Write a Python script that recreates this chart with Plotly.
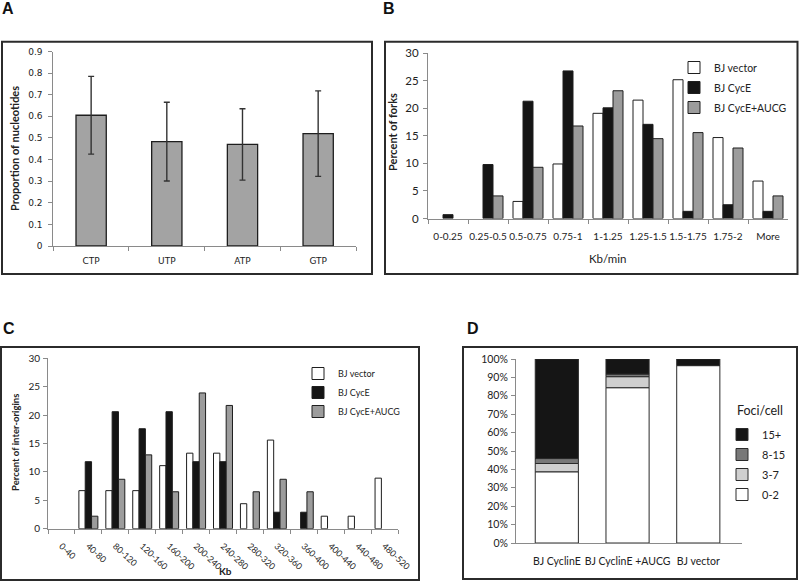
import plotly.graph_objects as go

# ---------------- data ----------------
# Panel A
nucleotides = ["CTP", "UTP", "ATP", "GTP"]
nuc_prop = [0.605, 0.483, 0.470, 0.520]
nuc_err = [0.180, 0.182, 0.165, 0.198]

# Panel B
speed_bins = ["0-0.25", "0.25-0.5", "0.5-0.75", "0.75-1", "1-1.25",
              "1.25-1.5", "1.5-1.75", "1.75-2", "More"]
forks_vector = [0, 0, 3.1, 9.9, 19.1, 21.5, 25.2, 14.7, 6.8]
forks_cyce = [0.7, 9.8, 21.3, 26.8, 20.1, 17.1, 1.3, 2.5, 1.3]
forks_aucg = [0, 4.1, 9.3, 16.8, 23.2, 14.5, 15.6, 12.8, 4.1]

# Panel C
dist_bins = ["0-40", "40-80", "80-120", "120-160", "160-200", "200-240",
             "240-280", "280-320", "320-360", "360-400", "400-440",
             "440-480", "480-520"]
io_vector = [0, 6.7, 6.7, 6.7, 11.1, 13.3, 13.3, 4.4, 15.6, 0, 2.2, 2.2, 8.9]
io_cyce = [0, 11.8, 20.6, 17.6, 20.6, 11.8, 11.8, 0, 2.9, 2.9, 0, 0, 0]
io_aucg = [0, 2.2, 8.7, 13.0, 6.5, 23.9, 21.7, 6.5, 8.7, 6.5, 0, 0, 0]

# Panel D
cells = ["BJ CyclinE", "BJ CyclinE +AUCG", "BJ vector"]
foci_labels = ["0-2", "3-7", "8-15", "15+"]
foci_0_2 = [38.7, 84.4, 96.4]
foci_3_7 = [4.5, 6.0, 0]
foci_8_15 = [2.7, 1.4, 0]
foci_15p = [54.1, 8.2, 3.6]

series_names = ["BJ vector", "BJ CycE", "BJ CycE+AUCG"]

# ---------------- style ----------------
W, H = 800, 581
SANS = "Lato, Carlito, Calibri, sans-serif"
VERD = "DejaVu Sans, Verdana, sans-serif"
AXC = "#8a8a8a"
TXT = "#222222"
fill_cols = ["#ffffff", "#151515", "#9c9c9c"]
foci_cols = ["#ffffff", "#cfcfcf", "#787878", "#151515"]


def px(x):
    return x / W


def py(y):
    return 1 - y / H


def shown(vals):
    # empty (zero) bins draw no bar, as in the original chart
    return [v if v > 0 else None for v in vals]


fig = go.Figure()

# Panel A
fig.add_trace(go.Bar(
    x=nucleotides, y=nuc_prop, xaxis="x", yaxis="y", width=0.4,
    marker=dict(color="#a3a3a3", line=dict(color="#1e1e1e", width=1.3)),
    error_y=dict(type="data", array=nuc_err, color="#333333", thickness=1.4, width=3),
    showlegend=False))

# Panel B
offs3 = [-0.375, -0.125, 0.125]
for name, vals, col, off in zip(series_names, [forks_vector, forks_cyce, forks_aucg], fill_cols, offs3):
    fig.add_trace(go.Bar(
        x=speed_bins, y=shown(vals), name=name, xaxis="x2", yaxis="y2",
        width=0.25, offset=off, legendgroup="B" + name,
        marker=dict(color=col, line=dict(color="#1e1e1e", width=1)),
        legend="legend"))

# Panel C
offsC = [-0.3525, -0.1175, 0.1175]
for name, vals, col, off in zip(series_names, [io_vector, io_cyce, io_aucg], fill_cols, offsC):
    fig.add_trace(go.Bar(
        x=dist_bins, y=shown(vals), name=name, xaxis="x3", yaxis="y3",
        width=0.235, offset=off,
        marker=dict(color=col, line=dict(color="#1e1e1e", width=1)),
        legend="legend2"))

# Panel D (stacked 100%)
base = [0, 0, 0]
for i, (name, vals, col) in enumerate(zip(foci_labels, [foci_0_2, foci_3_7, foci_8_15, foci_15p], foci_cols)):
    fig.add_trace(go.Bar(
        x=cells, y=shown(vals), base=list(base), name=name, xaxis="x4", yaxis="y4",
        width=0.61, offset=-0.305, legendgroup="D" + name,
        legendrank=1000 - i,
        marker=dict(color=col, line=dict(color="#2a2a2a", width=1)),
        legend="legend3"))
    base = [b + v for b, v in zip(base, vals)]

common_y = dict(showline=True, linecolor=AXC, linewidth=1, ticks="outside",
                ticklen=4, tickcolor=AXC, showgrid=False, zeroline=False,
                fixedrange=True, automargin=False)
common_x = dict(showline=True, linecolor=AXC, linewidth=1, showgrid=False,
                zeroline=False, type="category", fixedrange=True,
                automargin=False)

fig.update_layout(
    template="none",
    width=W, height=H, autosize=False,
    margin=dict(l=0, r=0, t=0, b=0, pad=0),
    paper_bgcolor="white", plot_bgcolor="white",
    barmode="overlay",
    font=dict(family=SANS, color=TXT, size=11),
    # A
    xaxis=dict(domain=[px(53.3), px(356)], anchor="y", range=[-0.5, 3.5],
               ticks="outside", tickson="boundaries", ticklen=4, tickcolor=AXC,
               tickangle=0, ticklabelstandoff=6,
               tickfont=dict(family=VERD, size=9, color=TXT), **common_x),
    yaxis=dict(domain=[py(246), py(51.5)], anchor="x", range=[0, 0.9],
               dtick=0.1, tickformat=".1~f",
               tickfont=dict(family=VERD, size=9, color=TXT),
               ticklabelstandoff=4, **common_y),
    # B
    xaxis2=dict(domain=[px(428), px(788)], anchor="y2", range=[-0.5, 8.5],
                ticks="outside", tickson="boundaries", ticklen=4, tickcolor=AXC,
                tickangle=0, tickfont=dict(size=10, color=TXT),
                ticklabelstandoff=8, **common_x),
    yaxis2=dict(domain=[py(218.5), py(53.3)], anchor="x2", range=[0, 30], dtick=5,
                tickfont=dict(size=11.5, color=TXT), ticklabelstandoff=2,
                **common_y),
    # C
    xaxis3=dict(domain=[px(48), px(398)], anchor="y3", range=[-0.5, 12.5],
                ticks="outside", tickson="boundaries", ticklen=4, tickcolor=AXC,
                tickangle=43, tickfont=dict(size=8.8, color=TXT),
                ticklabelstandoff=8, **common_x),
    yaxis3=dict(domain=[py(528.7), py(358.3)], anchor="x3", range=[0, 30], dtick=5,
                tickfont=dict(size=10, color=TXT), ticklabelstandoff=1,
                **common_y),
    # D
    xaxis4=dict(domain=[px(516), px(742)], anchor="y4", range=[-0.577, 2.618],
                ticks="", tickangle=0, tickfont=dict(size=10.5, color=TXT),
                ticklabelstandoff=8, **common_x),
    yaxis4=dict(domain=[py(543), py(359)], anchor="x4", range=[0, 100], dtick=10,
                ticksuffix="%", tickfont=dict(size=10.5, color=TXT),
                ticklabelstandoff=1, **common_y),
    legend=dict(x=px(674), y=py(53), xanchor="left", yanchor="top",
                bgcolor="rgba(0,0,0,0)", borderwidth=0,
                font=dict(size=10.5, color=TXT),
                traceorder="grouped", tracegroupgap=1),
    legend2=dict(x=px(298), y=py(359), xanchor="left", yanchor="top",
                 bgcolor="rgba(0,0,0,0)", borderwidth=0,
                 font=dict(size=9, color=TXT),
                 traceorder="normal"),
    legend3=dict(x=px(722), y=py(420), xanchor="left", yanchor="top",
                 bgcolor="rgba(0,0,0,0)", borderwidth=0,
                 font=dict(size=11, color=TXT),
                 traceorder="grouped", tracegroupgap=1),
)

# Panel boxes
boxes = [(2, 41.7, 372, 274), (385, 41.7, 797.5, 274),
         (1, 347, 419, 580), (463, 347, 797, 579)]
for x0, y0, x1, y1 in boxes:
    fig.add_shape(type="rect", xref="paper", yref="paper",
                  x0=px(x0), x1=px(x1), y0=py(y1), y1=py(y0),
                  line=dict(color="#2b2b2b", width=2), fillcolor="rgba(0,0,0,0)")

# Panel letters
letters = [("A", 8, 8), ("B", 389, 8), ("C", 9, 328), ("D", 473, 328)]
for t, x, y in letters:
    fig.add_annotation(text=f"<b>{t}</b>", xref="paper", yref="paper",
                       x=px(x), y=py(y), showarrow=False, xanchor="center",
                       yanchor="middle",
                       font=dict(family="Liberation Sans, Arial, sans-serif",
                                 size=16, color="#111"))

# Axis titles and legend heading of panel D
titles = [
    ("<b>Proportion of nucleotides</b>", 14, 149, -90, 11, "center"),
    ("<b>Percent of forks</b>", 392.5, 132.5, -90, 11, "center"),
    ("Kb/min", 607, 258, 0, 11.5, "center"),
    ("<b>Percent of inter-origins</b>", 16, 443, -90, 9.5, "center"),
    ("<b>Kb</b>", 225, 571, 0, 10, "center"),
    ("Foci/cell", 735, 410, 0, 12.5, "left"),
]
for t, x, y, ang, sz, xa in titles:
    fig.add_annotation(text=t, xref="paper", yref="paper", x=px(x), y=py(y),
                       showarrow=False, xanchor=xa, yanchor="middle",
                       textangle=ang, font=dict(size=sz, color=TXT))

fig.write_html(
    "out.html",
    config={"displayModeBar": False},
    post_script="document.body.style.margin='0px';document.body.style.overflow='hidden';",
)
